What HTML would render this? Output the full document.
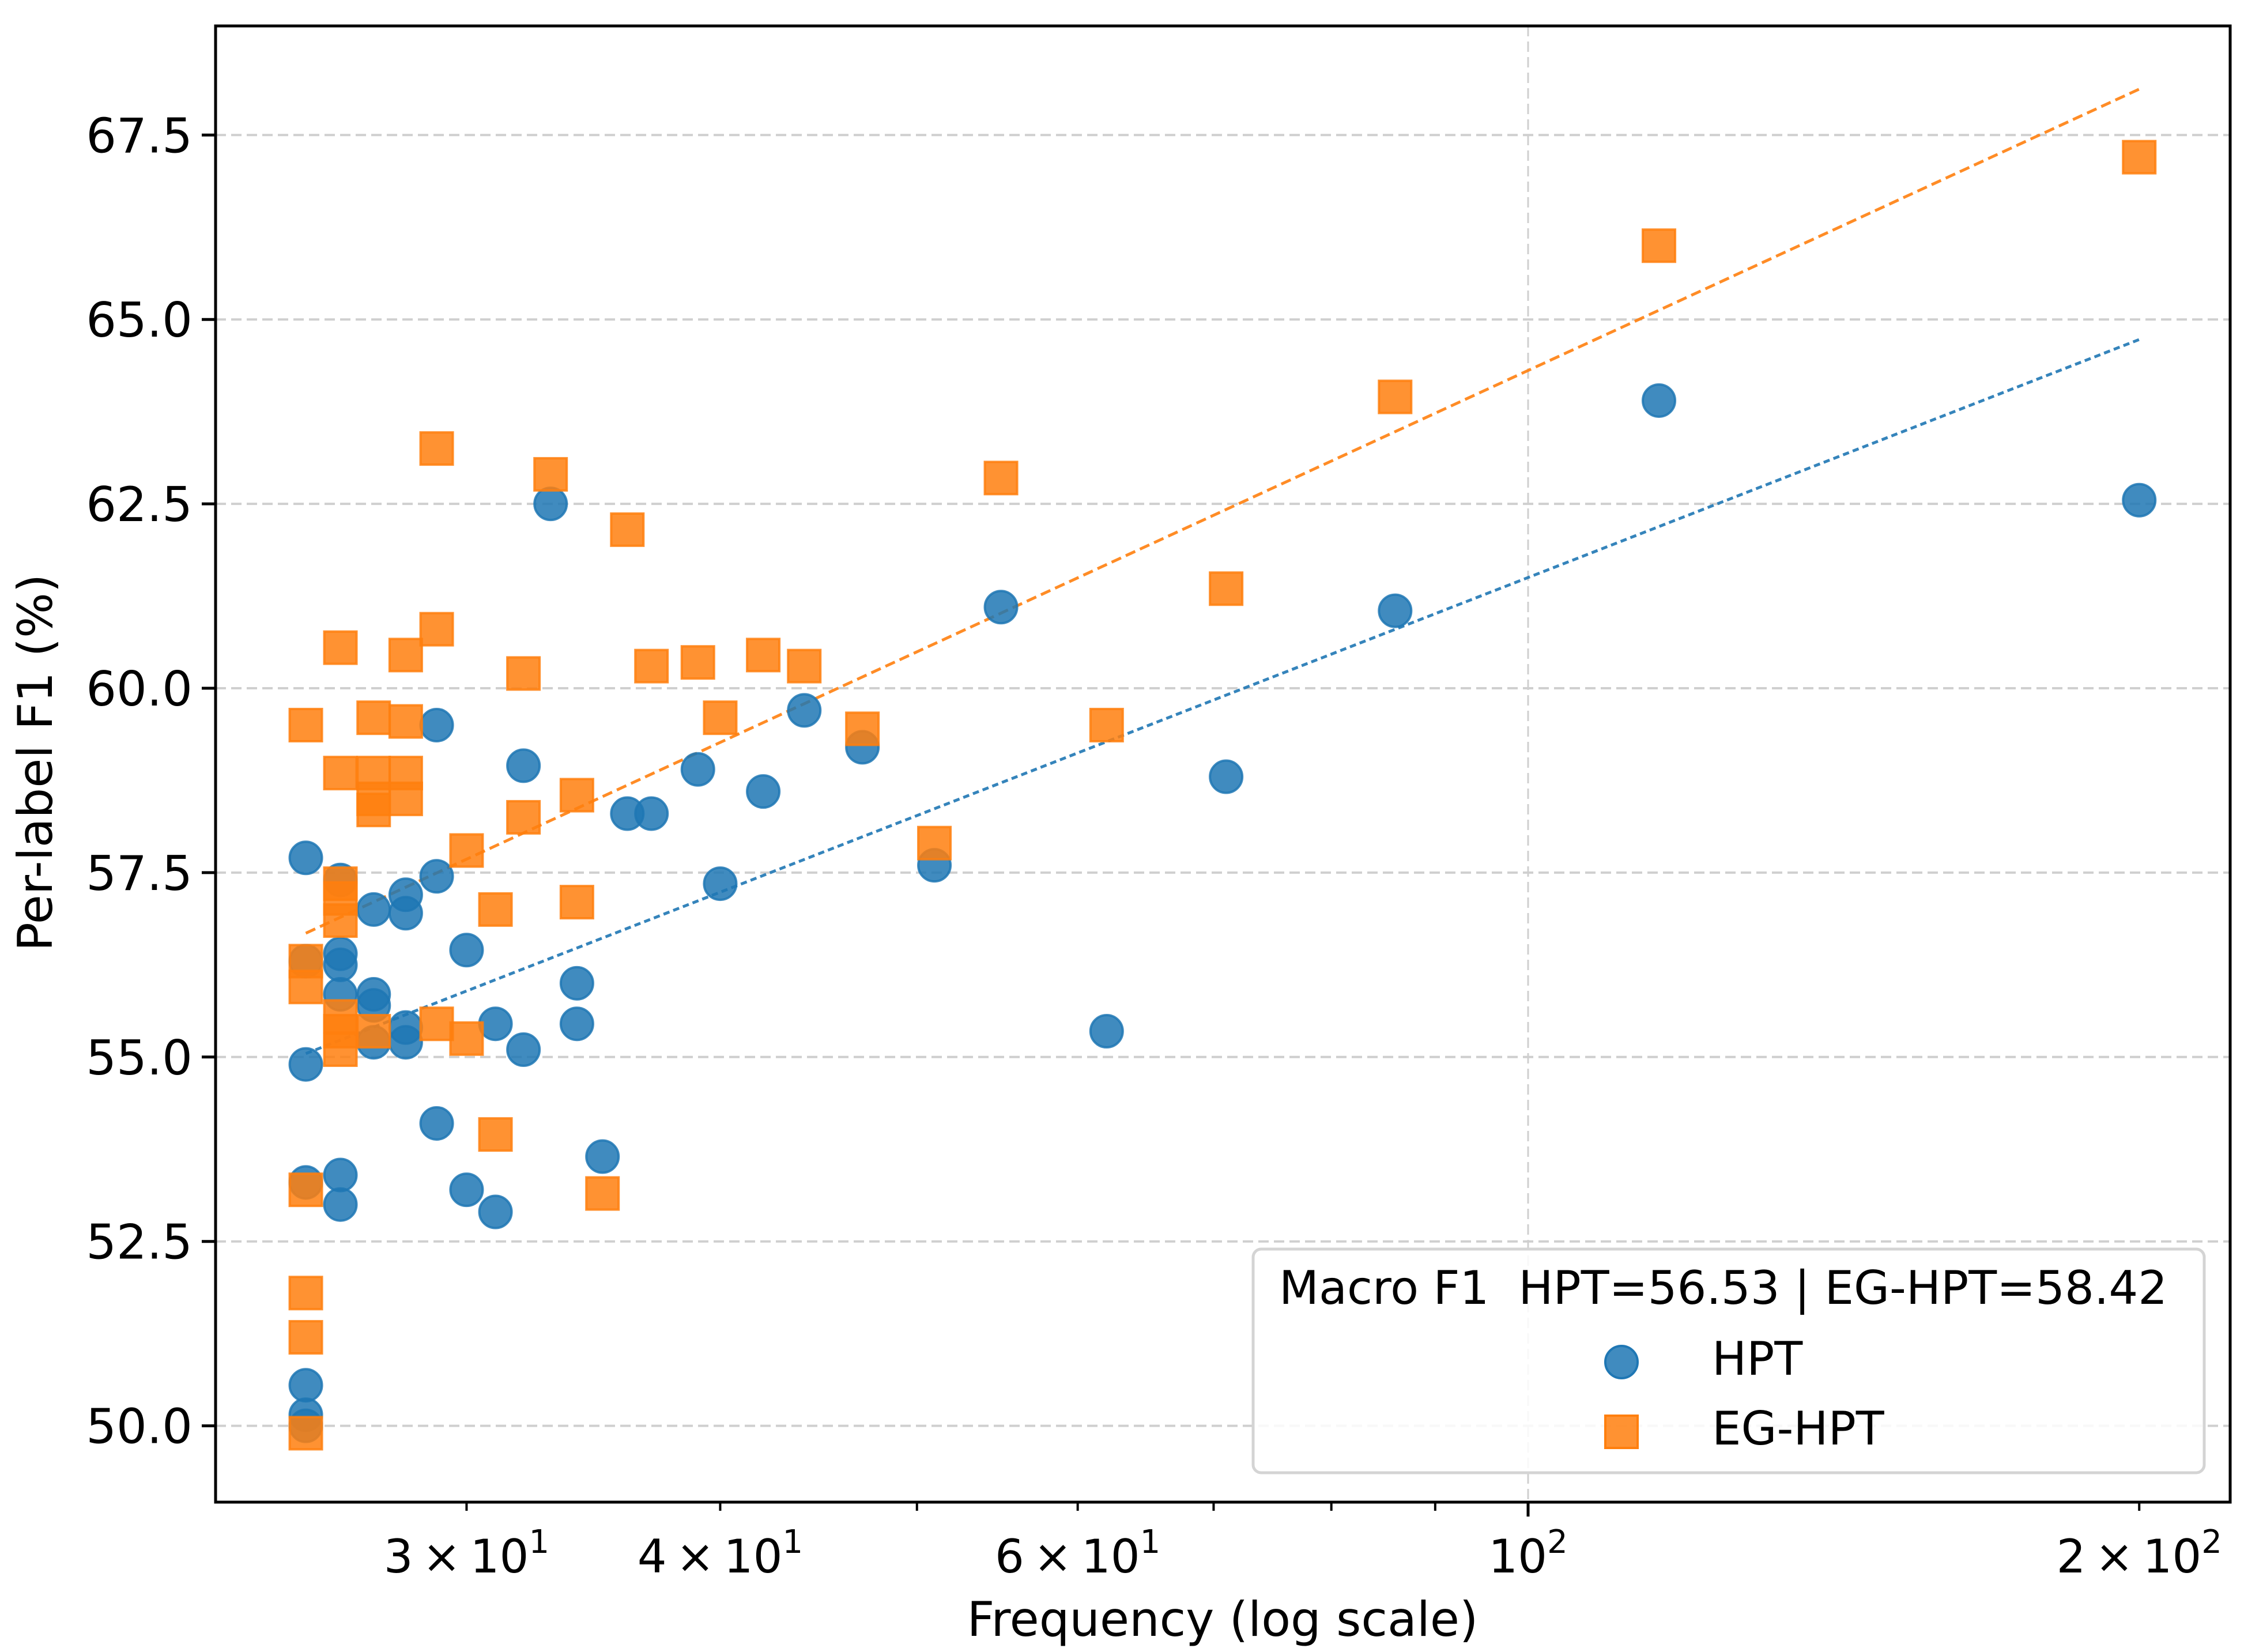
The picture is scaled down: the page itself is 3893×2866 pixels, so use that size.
<!DOCTYPE html>
<html><head><meta charset="utf-8"><style>
html,body{margin:0;padding:0;background:#fff;}
svg{display:block;font-family:"DejaVu Sans","Liberation Sans",sans-serif;}
</style></head><body>
<svg id="chart" width="3893" height="2866" viewBox="0 0 3893 2866" xmlns="http://www.w3.org/2000/svg">
<rect x="0" y="0" width="3893" height="2866" fill="#fff"/>
<g id="grid"></g>
<g id="trends"></g>
<g id="marks"></g>
<g id="axes"></g>
<text x="2121" y="2838" font-size="83" text-anchor="middle">Frequency (log scale)</text>
<text x="0" y="0" font-size="83" text-anchor="middle" transform="translate(90,1323) rotate(-90)">Per-label F1 (%)</text>
<g>
<rect x="2174" y="2167" width="1650" height="388" rx="14" ry="14" fill="#fff" fill-opacity="0.85" stroke="#d4d4d4" stroke-width="5"/>
<text x="2219" y="2262" font-size="80">Macro F1&#160; HPT=56.53 | EG-HPT=58.42</text>
<circle cx="2813" cy="2363" r="28" fill="#1f77b4" fill-opacity="0.85" stroke="#1f77b4" stroke-width="4"/>
<text x="2970" y="2385" font-size="80">HPT</text>
<rect x="2785" y="2456" width="56" height="56" fill="#ff7f0e" fill-opacity="0.85" stroke="#ff7f0e" stroke-width="4"/>
<text x="2970" y="2506" font-size="80">EG-HPT</text>
</g>
</svg>
<script>
const hptFreq = [25,25,25,25,25,25,25, 26,26,26,26,26,26, 27,27,27,27, 28,28,28,28, 29,29,29, 30,30, 31,31, 32,32, 33, 34,34, 35, 36, 37, 39, 40, 42, 44, 47, 51, 55, 62, 71, 86, 116, 200];
const hptF1 = [57.7,56.3,54.9,53.3,50.55,50.15,50.0, 57.4,56.4,56.25,55.85,53.4,53.0, 57.0,55.85,55.7,55.2, 57.2,56.95,55.4,55.2, 59.5,57.45,54.1, 56.45,53.2, 55.45,52.9, 58.95,55.1, 62.5, 56.0,55.45, 53.65, 58.3, 58.3, 58.9, 57.35, 58.6, 59.7, 59.2, 57.6, 61.1, 55.35, 58.8, 61.05, 63.9, 62.55];
const egFreq = [25,25,25,25,25,25,25, 26,26,26,26,26,26,26,26, 27,27,27,27,27, 28,28,28,28, 29,29,29, 30,30, 31,31, 32,32, 33, 34,34, 35, 36, 37, 39, 40, 42, 44, 47, 51, 55, 62, 71, 86, 116, 200];
const egF1 = [59.5,56.3,55.95,53.2,51.8,51.2,49.9, 60.55,58.85,57.35,57.15,56.85,55.55,55.35,55.1, 59.6,58.85,58.5,58.35,55.35, 60.45,59.55,58.85,58.5, 63.25,60.8,55.45, 57.8,55.25, 57.0,53.95, 60.2,58.25, 62.9, 58.55,57.1, 53.15, 62.15, 60.3, 60.35, 59.6, 60.45, 60.3, 59.45, 57.9, 62.85, 59.5, 61.35, 63.95, 66.0, 67.2];
const yTicks = [50.0, 52.5, 55.0, 57.5, 60.0, 62.5, 65.0, 67.5];
const yTickLabels = ["50.0","52.5","55.0","57.5","60.0","62.5","65.0","67.5"];
const xMinorTicks = [30,40,50,60,70,80,90,200];
const xMajorTicks = [100];
const xLabelTicks = [30,40,60,100,200];
const xLabelMant = ["3","4","6","","2"];
const xLabelExp = ["1","1","1","2","2"];

const NS = "http://www.w3.org/2000/svg";
const L=374, R=3869, T=45, B=2606;
function xs(f){ return 2651 + 3522*(Math.log10(f)-2); }
function ys(v){ return 2473.6 - (v-50)*127.96; }
function mk(tag, attrs, parent){ const e=document.createElementNS(NS,tag); for(const k in attrs) e.setAttribute(k,attrs[k]); parent.appendChild(e); return e; }

const grid=document.getElementById('grid');
yTicks.forEach(v=>{
  const l=mk('line',{x1:L,x2:R,y1:ys(v),y2:ys(v),stroke:'#cfcfcf','stroke-width':4,'stroke-dasharray':'18 9'},grid);
  
  
});
xMajorTicks.forEach(f=>{
  const l=mk('line',{x1:xs(f),x2:xs(f),y1:T,y2:B,stroke:'#cfcfcf','stroke-width':3,'stroke-dasharray':'18 9'},grid);
  
  
});

function fit(fx, vy){
  const n=fx.length; let sx=0,sy=0,sxx=0,sxy=0;
  for(let i=0;i<n;i++){ const lx=Math.log10(fx[i]); sx+=lx; sy+=vy[i]; sxx+=lx*lx; sxy+=lx*vy[i]; }
  const b=(n*sxy-sx*sy)/(n*sxx-sx*sx); const a=(sy-b*sx)/n; return [a,b];
}
const trends=document.getElementById('trends');
[[hptFreq,hptF1,'#1f77b4','hpt-trend-line','11 7'],[egFreq,egF1,'#ff7f0e','eg-hpt-trend-line','18 9']].forEach(s=>{
  const [a,b]=fit(s[0],s[1]);
  const f0=Math.min(...s[0]), f1=Math.max(...s[0]);
  const l=mk('line',{x1:xs(f0),y1:ys(a+b*Math.log10(f0)),x2:xs(f1),y2:ys(a+b*Math.log10(f1)),stroke:s[2],'stroke-width':5,'stroke-dasharray':s[4],'stroke-opacity':0.9},trends);
  
  
});

const marks=document.getElementById('marks');
hptFreq.forEach((f,i)=>{
  const c=mk('circle',{cx:xs(f),cy:ys(hptF1[i]),r:28,fill:'#1f77b4','fill-opacity':0.85,stroke:'#1f77b4','stroke-opacity':0.85,'stroke-width':4},marks);
  
  
});
egFreq.forEach((f,i)=>{
  const r=mk('rect',{x:xs(f)-28,y:ys(egF1[i])-28,width:56,height:56,fill:'#ff7f0e','fill-opacity':0.85,stroke:'#ff7f0e','stroke-opacity':0.85,'stroke-width':4},marks);
  
  
});

const axes=document.getElementById('axes');
const frame=mk('rect',{x:L,y:T,width:R-L,height:B-T,fill:'none',stroke:'#000','stroke-width':5},axes);


yTicks.forEach((v,i)=>{
  const t=mk('line',{x1:L-24,x2:L,y1:ys(v),y2:ys(v),stroke:'#000','stroke-width':5},axes);
  
  
  const tx=mk('text',{x:L-40,y:ys(v)+30,'font-size':83,'text-anchor':'end'},axes);
  tx.textContent=yTickLabels[i];
  
  
});
xMinorTicks.forEach(f=>{
  const t=mk('line',{x1:xs(f),x2:xs(f),y1:B,y2:B+15,stroke:'#000','stroke-width':4},axes);
  
  
});
xMajorTicks.forEach(f=>{
  const t=mk('line',{x1:xs(f),x2:xs(f),y1:B,y2:B+25,stroke:'#000','stroke-width':5},axes);
  
  
});
xLabelTicks.forEach((f,i)=>{
  const tx=mk('text',{x:xs(f),y:2728,'font-size':80,'text-anchor':'middle'},axes);
  
  
  const m=xLabelMant[i];
  tx.textContent = (m? m+"\u2009\u00d7\u2009" : "") + "10";
  const sup=mk('tspan',{dy:-34,'font-size':56},tx);
  sup.textContent=xLabelExp[i];
});
</script>
</body></html>
